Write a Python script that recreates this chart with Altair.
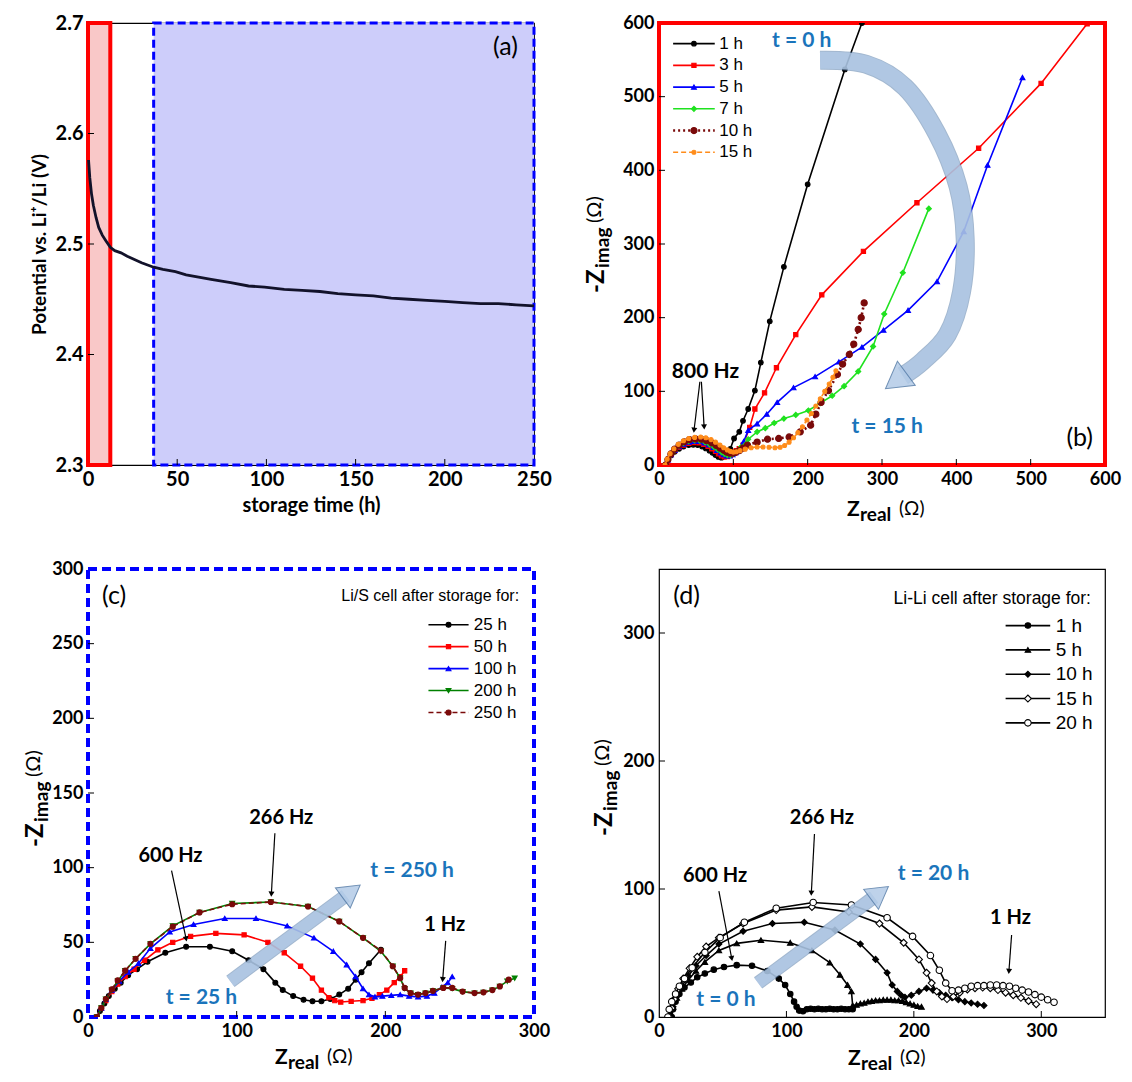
import math
import altair as alt
import pandas as pd

FONT = "Lato"
SANS = "Liberation Sans"
TBLUE = "#1a74bb"
BAND_IN = "#b3cbe7"
BAND_OUT = "#587ea9"

# ---------------- (a) potential of the Li/S cell while stored ----------------
a_time = [0.3, 1, 2, 3, 4.5, 6, 8, 10, 12.5, 15, 18.5, 22, 26, 30, 36.8, 42, 49, 55, 62, 69,
          80, 90, 99, 110, 120, 130, 140, 150, 160, 170, 180, 190, 200, 210, 220, 230, 240, 250]
a_potential = [2.576, 2.56, 2.545, 2.535, 2.524, 2.515, 2.508, 2.503, 2.497, 2.494, 2.492, 2.489,
               2.486, 2.483, 2.479, 2.477, 2.475, 2.472, 2.470, 2.468, 2.465, 2.462, 2.461, 2.459,
               2.458, 2.457, 2.455, 2.454, 2.453, 2.451, 2.450, 2.449, 2.448, 2.447, 2.446, 2.446,
               2.445, 2.444]
a_fresh = [0, 12.5]      # hours covered by (b)
a_stored = [36.8, 250]   # hours covered by (c)

# ---------------- (b) impedance, first 15 h ----------------
b_labels = ["1 h", "3 h", "5 h", "7 h", "10 h", "15 h"]
b_1h_x = [9, 12, 16, 21, 27, 33, 40, 46, 52, 58, 63, 68, 72, 76, 80, 84, 88, 92, 96, 101,
          108, 113, 120, 129, 137, 149, 168, 200, 250, 273]
b_1h_y = [0, 7, 13, 18, 22, 25, 27, 27.5, 27, 25, 22.5, 19.5, 16.5, 13.5, 11, 10, 11.5, 14.5, 22, 36,
          45, 60, 76, 101, 139, 195, 269, 381, 537, 600]
b_3h_x = [9, 12, 16, 21, 27, 33, 40, 47, 54, 60, 66, 71, 76, 80, 84, 88, 92, 96, 100, 104,
          108, 113, 122, 129, 142, 158, 184, 219, 275, 347, 430, 514, 576]
b_3h_y = [0, 7, 14, 19.5, 24, 27, 29.5, 30.5, 30, 28, 25.5, 22, 18.5, 15, 12.5, 11, 11.5, 13, 16, 19.5,
          22, 27, 51, 76, 98, 132, 177, 231, 290, 356, 430, 518, 599]
b_5h_x = [9, 12, 16, 21, 27, 33, 40, 47, 54, 61, 67, 73, 78, 83, 87, 91, 95, 99, 103, 108,
          114, 120, 132, 145, 159, 181, 210, 242, 273, 302, 335, 374, 410, 442, 489]
b_5h_y = [0, 7, 14, 20, 25, 28.5, 31, 32, 32, 30, 27.5, 24, 20, 16.5, 14, 12.5, 12.5, 14, 17, 22,
          32, 47, 56, 69, 85, 105, 120, 140, 160, 183, 210, 249, 317, 407, 526]
b_7h_x = [9, 12, 16, 21, 27, 33, 40, 48, 55, 62, 68, 74, 79, 84, 88, 92, 96, 100, 104, 110,
          120, 132, 143, 155, 168, 184, 201, 217, 233, 249, 268, 288, 303, 328, 363]
b_7h_y = [0, 7, 14, 20.5, 26, 30, 32.5, 33.5, 33, 31, 28, 24.5, 21, 17.5, 15, 13.5, 13.5, 15, 18, 24,
          35, 45, 50, 57, 63, 68, 74, 84, 94, 107, 127, 161, 205, 261, 348]
b_10h_x = [9, 12, 16, 21, 27, 34, 41, 49, 57, 64, 71, 77, 82, 87, 91, 95, 99, 103, 108, 113,
           119, 132, 146, 161, 175, 190, 204, 211, 218, 228, 240, 247, 256, 262, 268, 272, 276]
b_10h_y = [0, 7.5, 15, 21.5, 27, 31.5, 34.5, 35.5, 35, 33, 30, 26.5, 23, 20, 17.5, 16, 16, 17, 19.5, 23,
           27, 31, 35, 36, 38, 45, 54, 69, 85, 101, 123, 137, 150, 164, 184, 200, 220]
b_15h_x = [8, 11, 15, 20, 26, 33, 40, 48, 56, 63, 70, 76, 82, 87, 92, 96, 100, 104, 109, 116,
           124, 132, 140, 148, 156, 163, 169, 175, 181, 187, 193, 199, 205, 211, 217, 223, 229, 234, 238]
b_15h_y = [0, 8, 15.5, 22, 28, 33, 36, 37.5, 38, 37, 34.5, 31, 27, 23.5, 20.5, 18.5, 17.5, 18, 19.5, 21.5,
           23.5, 24.5, 24.5, 24, 23.5, 24, 26.5, 31, 37, 44, 52, 61, 70, 80, 90, 100, 110, 119, 128]

# ---------------- (c) impedance, 25-250 h ----------------
c_labels = ["25 h", "50 h", "100 h", "200 h", "250 h"]
c_25h_x = [6, 8, 11, 14, 18, 22, 27, 33, 40, 52, 66, 82, 97, 108, 118, 126, 131, 138, 145, 151,
           157, 163, 169, 175, 180, 184, 189, 197]
c_25h_y = [0, 4, 9, 14, 19, 23, 28, 32, 37, 43, 47, 47, 44, 38, 32, 23, 18, 14, 11.5, 10.5,
           10.5, 12, 15, 19, 25, 30, 36, 45]
c_50h_x = [6, 9, 12, 16, 20, 25, 31, 38, 47, 57, 69, 86, 105, 121, 132, 143, 151, 157, 162, 166,
           170, 177, 185, 191, 196, 201, 206, 210, 213]
c_50h_y = [0, 6, 11, 17, 22, 27, 32, 38, 45, 50, 54, 56, 55, 50, 43, 34, 26, 18, 13, 11,
           10, 10.5, 11, 12.5, 15, 18, 23, 27, 31]
c_100h_x = [6, 9, 12, 16, 21, 27, 34, 42, 55, 71, 92, 113, 134, 152, 165, 174, 180, 185, 189, 193,
            198, 204, 210, 216, 222, 228, 233, 238, 242, 245]
c_100h_y = [0, 6, 12, 18, 24, 30, 36, 46, 57, 62, 66, 66, 61, 53, 44, 35, 27, 19, 15, 13.5,
            14, 14.5, 15, 14, 13.5, 14, 16, 20, 23, 27]
c_200h_x = [6, 9, 12, 16, 20, 25, 32, 42, 57, 75, 97, 123, 148, 169, 185, 197, 205, 210, 213, 217,
            222, 227, 232, 239, 245, 252, 260, 266, 272, 277, 282, 287]
c_200h_y = [0, 6, 12, 18, 24, 31, 39, 49, 61, 70, 76, 77, 74, 64, 53, 44, 34, 26, 19, 16,
            15, 16, 17.5, 19.5, 19, 17, 16, 16.5, 18, 20.5, 24, 26]
c_250h_x = [6, 9, 12, 16, 20, 25, 32, 42, 57, 75, 97, 123, 148, 169, 185, 197, 205, 210, 213, 217,
            222, 227, 232, 239, 245, 252, 260, 266, 272, 277, 283]
c_250h_y = [0, 6, 12, 18.5, 24.5, 31, 39, 49, 60.5, 70, 75.5, 77, 74, 64, 53, 44.5, 34, 26, 19.5, 16,
            15, 16, 17.5, 19.5, 19.5, 17, 16, 16.5, 18, 20.5, 25]

# ---------------- (d) Li-Li symmetric cell ----------------
d_labels = ["1 h", "5 h", "10 h", "15 h", "20 h"]
d_1h_x = [10, 11, 13, 16, 20, 25, 30, 36, 43, 51, 61, 73, 85, 94, 99, 103, 106, 108, 110, 113,
          116, 119, 122, 125, 128, 131, 134, 137, 140, 143, 146, 149, 152]
d_1h_y = [0, 6, 12, 18, 23, 27, 31, 34, 37, 39, 40.5, 40, 36, 30, 25, 18, 12, 8, 5, 4.5,
          6, 6.5, 6, 6.5, 6, 6, 6.5, 6, 6, 6.5, 6, 6, 6]
d_5h_x = [9, 11, 14, 18, 23, 29, 36, 47, 61, 80, 103, 120, 134, 142, 148, 151, 152, 155, 158, 161,
          164, 167, 170, 173, 176, 179, 182, 185, 188, 191, 194, 197, 200, 203, 206]
d_5h_y = [0, 8, 15, 22, 29, 36, 43, 52, 57.5, 60, 58, 52, 42.5, 33, 25, 20, 9, 9.5, 10.5, 11,
          12, 12.5, 13, 13, 13.5, 13.5, 13.5, 13, 13, 12.5, 11.5, 10.5, 9.5, 8.5, 8]
d_10h_x = [9, 11, 14, 18, 23, 29, 37, 47, 66, 89, 114, 138, 158, 170, 179, 183, 187, 190, 193, 198,
           204, 210, 215, 220, 225, 230, 235, 240, 245, 250, 255]
d_10h_y = [0, 8, 16, 24, 32, 40, 48, 57, 67, 73, 74, 68, 57, 45, 34.5, 25, 20, 17, 15.5, 17,
           20, 22.5, 21, 19, 17, 15, 13.5, 12, 11, 10, 9]
d_15h_x = [8, 10, 12, 15, 19, 24, 30, 37, 47, 66, 92, 120, 149, 173, 192, 204, 210, 214, 218, 222,
           226, 231, 236, 242, 248, 254, 260, 266, 272, 278, 284, 290, 296]
d_15h_y = [0, 7, 14, 22, 30, 38, 47, 55, 62, 73, 83.5, 86, 82, 73, 58, 45, 34.5, 26.5, 20, 16,
           14, 16, 19, 21.5, 22.5, 23, 22.5, 21, 19, 17, 15, 12.5, 10]
d_20h_x = [7, 8, 10, 13, 16, 20, 26, 36, 48, 67, 92, 121, 151, 179, 199, 213, 220, 225, 230, 235,
           240, 245, 250, 255, 260, 265, 270, 275, 280, 285, 290, 295, 300, 305, 310]
d_20h_y = [0, 6, 12, 18, 24, 30, 38.5, 50.5, 62, 74, 85, 89.5, 87.5, 77.5, 63, 48, 36.5, 26.5, 20.5, 21,
           22.5, 24, 24.5, 24.5, 25, 25, 24.5, 24, 22.5, 21, 19.5, 17.5, 15.5, 13.5, 11.5]

# styles (not data)
b_styles = [
    dict(color="#000000", shape="circle", size=22),
    dict(color="#ff0000", shape="square", size=18),
    dict(color="#0000ff", shape="triangle-up", size=24),
    dict(color="#1fe21f", shape="diamond", size=26),
    dict(color="#7a0a0a", shape="circle", size=38, dash=[2, 3], width=2.6),
    dict(color="#ff8c1a", shape="circle", size=16, dash=[5, 3]),
]
c_styles = [
    dict(color="#000000", shape="circle", size=24),
    dict(color="#ff0000", shape="square", size=18),
    dict(color="#0000ff", shape="triangle-up", size=24),
    dict(color="#008000", shape="triangle-down", size=24),
    dict(color="#7a0a0a", shape="circle", size=26, dash=[5, 3]),
]
d_styles = [
    dict(color="#000000", shape="circle", size=30),
    dict(color="#000000", shape="triangle-up", size=30),
    dict(color="#000000", shape="diamond", size=36),
    dict(color="#000000", shape="diamond", size=48, fill="white"),
    dict(color="#000000", shape="circle", size=42, fill="white"),
]


def axis(vals, size, fmt="d"):
    return alt.Axis(values=vals, format=fmt, title=None, grid=False, domain=False, ticks=False,
                    labelFont=FONT, labelFontWeight="bold", labelFontSize=size, labelColor="black",
                    labelPadding=5, labelFlush=False, labelOverlap=False)


def enc(xdom, ydom, xvals, yvals, size, yfmt="d"):
    X = alt.X("x:Q", scale=alt.Scale(domain=xdom, nice=False, zero=False), axis=axis(xvals, size))
    Y = alt.Y("y:Q", scale=alt.Scale(domain=ydom, nice=False, zero=False), axis=axis(yvals, size, yfmt))
    return X, Y


def line_kw(st):
    kw = dict(color=st["color"], strokeWidth=st.get("width", 1.6), clip=True)
    if st.get("dash"):
        kw["strokeDash"] = st["dash"]
    return kw


def point_kw(st):
    return dict(shape=st["shape"], size=st["size"], filled=True, fill=st.get("fill", st["color"]),
                stroke=st["color"], strokeWidth=1.1, opacity=1, clip=True)


def curve(xs, ys, st, X, Y):
    df = pd.DataFrame({"x": xs, "y": ys, "i": list(range(len(xs)))})
    return [alt.Chart(df).mark_line(**line_kw(st)).encode(x=X, y=Y, order="i:Q"),
            alt.Chart(df).mark_point(**point_kw(st)).encode(x=X, y=Y)]


def note(text, x, y, X, Y, size=20, color="black", weight="bold", font=FONT, align="center"):
    return alt.Chart(pd.DataFrame({"x": [x], "y": [y]})).mark_text(
        text=text, font=font, fontSize=size, fontWeight=weight, color=color, align=align,
        baseline="middle").encode(x=X, y=Y)


def legend(labels, styles, X, Y, x1, x2, xt, y0, dy, size):
    out = []
    for i, (lab, st) in enumerate(zip(labels, styles)):
        y = y0 - i * dy
        seg = pd.DataFrame({"x": [x1, x2], "y": [y, y]})
        out.append(alt.Chart(seg).mark_line(**line_kw(st)).encode(x=X, y=Y))
        out.append(alt.Chart(pd.DataFrame({"x": [(x1 + x2) / 2], "y": [y]}))
                   .mark_point(**point_kw(st)).encode(x=X, y=Y))
        out.append(note(lab, xt, y, X, Y, size=size, weight="normal", font=SANS, align="left"))
    return out


def head_center(bx, by, tip, k, size):
    kx, ky = k
    ux, uy = (tip[0] - bx) * kx, -(tip[1] - by) * ky
    n = math.hypot(ux, uy)
    ux, uy = ux / n, uy / n
    d = 0.577 * math.sqrt(size)
    cx, cy = tip[0] - ux * d / kx, tip[1] + uy * d / ky
    ang = math.degrees(math.atan2(-ux, uy)) % 360
    return cx, cy, ux, uy, ang


def pointer(x0, y0, x1, y1, X, Y, k, size=36):
    cx, cy, _, _, ang = head_center(x0, y0, (x1, y1), k, size)
    shaft = pd.DataFrame({"x": [x0], "y": [y0], "x2": [cx], "y2": [cy]})
    return [alt.Chart(shaft).mark_rule(color="black", strokeWidth=1.2).encode(x=X, y=Y, x2="x2", y2="y2"),
            alt.Chart(pd.DataFrame({"x": [cx], "y": [cy]})).mark_point(
                shape="triangle-down", size=size, angle=ang, filled=True, color="black", opacity=1
            ).encode(x=X, y=Y)]


def band_arrow(xs, ys, tip, X, Y, k, width, size):
    cx, cy, ux, uy, ang = head_center(xs[-1], ys[-1], tip, k, size)
    r = 0.289 * math.sqrt(size)
    bx, by = cx - ux * r / k[0], cy + uy * r / k[1]
    df = pd.DataFrame({"x": list(xs) + [bx], "y": list(ys) + [by], "i": list(range(len(xs) + 1))})
    band = dict(strokeCap="butt", interpolate="cardinal")
    return [alt.Chart(df).mark_line(color=BAND_OUT, strokeWidth=width + 2, opacity=0.55, **band)
            .encode(x=X, y=Y, order="i:Q"),
            alt.Chart(df).mark_line(color=BAND_IN, strokeWidth=width, opacity=0.8, **band)
            .encode(x=X, y=Y, order="i:Q"),
            alt.Chart(pd.DataFrame({"x": [cx], "y": [cy]})).mark_point(
                shape="triangle-down", size=size, angle=ang, filled=True, fill=BAND_IN, stroke=BAND_OUT,
                strokeWidth=1, opacity=0.85).encode(x=X, y=Y)]


def inward_ticks(xvals, yvals, xdom, ydom, X, Y, k, n=6):
    kx, ky = k
    rows = [dict(x=v, y=ydom[0], x2=v, y2=ydom[0] + n / ky) for v in xvals]
    rows += [dict(x=xdom[0], y=v, x2=xdom[0] + n / kx, y2=v) for v in yvals]
    return alt.Chart(pd.DataFrame(rows)).mark_rule(color="black", strokeWidth=1).encode(
        x=X, y=Y, x2="x2", y2="y2")


def piece(text, x, y, size, weight="bold", angle=0):
    return alt.Chart(pd.DataFrame({"k": [0]})).mark_text(
        text=text, font=FONT, fontSize=size, fontWeight=weight, color="black", align="left",
        baseline="alphabetic", angle=angle).encode(x=alt.value(x), y=alt.value(y))


def z_titles(W, H, yx, ys, xx, xb):
    return [piece("-Z", yx, ys, 24, angle=270),
            piece("imag", yx + 5, ys - 25, 19, angle=270),
            piece("(Ω)", yx - 3, ys - 70, 20, weight="normal", angle=270),
            piece("Z", xx, H + xb, 21),
            piece("real", xx + 13, H + xb + 5, 19),
            piece("(Ω)", xx + 52, H + xb - 1, 19, weight="normal")]


# ---------------- panel (a) ----------------
WA, HA = 446, 442
a_x = [0, 50, 100, 150, 200, 250]
a_y = [2.3, 2.4, 2.5, 2.6, 2.7]
XA = alt.X("t:Q", scale=alt.Scale(domain=[0, 250], nice=False, zero=False),
           axis=alt.Axis(values=a_x, format="d", title="storage time (h)", grid=False, domain=False,
                         ticks=False, labelFont=FONT, labelFontWeight="bold", labelFontSize=20,
                         labelColor="black", labelPadding=4, labelFlush=False,
                         titleFont=FONT, titleFontSize=20, titleFontWeight="bold", titleColor="black",
                         titlePadding=6))
YA = alt.Y("y:Q", scale=alt.Scale(domain=[2.3, 2.7], nice=False, zero=False),
           axis=alt.Axis(values=a_y, format=".1f", title="Potential vs. Li⁺/Li (V)", grid=False,
                         domain=False, ticks=False, labelFont=FONT, labelFontWeight="bold",
                         labelFontSize=20, labelColor="black", labelPadding=5, labelFlush=False,
                         titleFont=FONT, titleFontSize=19, titleFontWeight="bold", titleColor="black",
                         titlePadding=6))
ka = (WA / 250, HA / 0.4)
a_df = pd.DataFrame({"t": a_time, "y": a_potential})
a_tick_df = pd.DataFrame([dict(t=v, y=2.3, t2=v, y2=2.3 + 6 / ka[1]) for v in a_x[1:-1]] +
                         [dict(t=0, y=v, t2=6 / ka[0], y2=v) for v in a_y[1:-1]])
a_layers = [
    alt.Chart(pd.DataFrame({"t": [a_stored[0]], "t2": [a_stored[1]]})).mark_rect(
        fill="#cdcdfa", stroke="#0000ff", strokeWidth=3, strokeDash=[8, 4]).encode(
        x=XA, x2="t2", y=alt.value(0), y2=alt.value(HA)),
    alt.Chart(pd.DataFrame({"t": [a_fresh[0]], "t2": [a_fresh[1]]})).mark_rect(
        fill="#f9c8c8", stroke="#ff0000", strokeWidth=4).encode(
        x=XA, x2="t2", y=alt.value(0), y2=alt.value(HA)),
    alt.Chart(a_tick_df).mark_rule(color="black").encode(x=XA, y=YA, x2="t2", y2="y2"),
    alt.Chart(a_df).mark_line(color="#12122a", strokeWidth=2.8).encode(x=XA, y=YA),
    alt.Chart(pd.DataFrame({"t": [234], "y": [2.678]})).mark_text(
        text="(a)", font=FONT, fontSize=25, color="black").encode(x=XA, y=YA),
]
panel_a = alt.layer(*a_layers).properties(
    width=WA, height=HA, view=alt.ViewBackground(stroke="black", strokeWidth=1.2))

# ---------------- panel (b) ----------------
WB, HB = 446, 442
b_xv = [0, 100, 200, 300, 400, 500, 600]
XB, YB = enc([0, 600], [0, 600], b_xv, b_xv, 18)
kb = (WB / 600, HB / 600)
b_layers = [inward_ticks(b_xv[1:-1], b_xv[1:-1], [0, 600], [0, 600], XB, YB, kb)]
for xs, ys, st in zip([b_1h_x, b_3h_x, b_5h_x, b_7h_x, b_10h_x, b_15h_x],
                      [b_1h_y, b_3h_y, b_5h_y, b_7h_y, b_10h_y, b_15h_y], b_styles):
    b_layers += curve(xs, ys, st, XB, YB)
b_layers += band_arrow([216.7, 278.6, 331, 373.8, 402.4, 411.9, 407, 388, 354.8],
                       [549.5, 544.1, 512.8, 450, 378, 306.8, 235, 177, 141],
                       (300, 100), XB, YB, kb, 17, 900)
b_layers += legend(b_labels, b_styles, XB, YB, 19, 75, 81, 572, 29.5, 17)
b_layers += pointer(55, 113, 46.6, 42.5, XB, YB, kb)
b_layers += pointer(57, 113, 61, 47, XB, YB, kb)
b_layers += [
    note("800 Hz", 62.5, 126, XB, YB, size=21),
    note("t = 0 h", 192, 576, XB, YB, size=21, color=TBLUE),
    note("t = 15 h", 307, 51.5, XB, YB, size=21, color=TBLUE),
    note("(b)", 566, 36, XB, YB, size=25, weight="normal"),
]
b_layers += z_titles(WB, HB, -55, 270, WB / 2 - 35, 51)
panel_b = alt.layer(*b_layers).properties(
    width=WB, height=HB, view=alt.ViewBackground(stroke="#ff0000", strokeWidth=4))

# ---------------- panel (c) ----------------
WC, HC = 446, 448
XC, YC = enc([0, 300], [0, 300], [0, 100, 200, 300], [0, 50, 100, 150, 200, 250, 300], 18)
kc = (WC / 300, HC / 300)
c_layers = [inward_ticks([100, 200], [50, 100, 150, 200, 250], [0, 300], [0, 300], XC, YC, kc)]
for xs, ys, st in zip([c_25h_x, c_50h_x, c_100h_x, c_200h_x, c_250h_x],
                      [c_25h_y, c_50h_y, c_100h_y, c_200h_y, c_250h_y], c_styles):
    c_layers += curve(xs, ys, st, XC, YC)
c_layers += band_arrow([95.8], [23.9], (185, 89.8), XC, YC, kc, 12, 620)
c_layers += legend(c_labels, c_styles, XC, YC, 229, 256, 259.5, 262.7, 14.7, 17)
c_layers += pointer(56.2, 98, 66.5, 50, XC, YC, kc)
c_layers += pointer(125.7, 123, 123.2, 80, XC, YC, kc)
c_layers += pointer(240.6, 51, 238.4, 22.7, XC, YC, kc)
c_layers += [
    note("Li/S cell after storage for:", 290, 281.8, XC, YC, size=16, weight="normal", font=SANS,
         align="right"),
    note("(c)", 17.6, 281.8, XC, YC, size=25, weight="normal"),
    note("600 Hz", 55.5, 108, XC, YC, size=20),
    note("266 Hz", 130, 133, XC, YC, size=20),
    note("1 Hz", 240, 61.4, XC, YC, size=20),
    note("t = 250 h", 218, 97.7, XC, YC, size=21, color=TBLUE),
    note("t = 25 h", 76.3, 12.5, XC, YC, size=21, color=TBLUE),
]
c_layers += z_titles(WC, HC, -45, 278, WC / 2 - 36, 47)
panel_c = alt.layer(*c_layers).properties(
    width=WC, height=HC, view=alt.ViewBackground(stroke="#0000ff", strokeWidth=4, strokeDash=[9, 5]))

# ---------------- panel (d) ----------------
WD, HD = 446, 448
XD, YD = enc([0, 350], [0, 350], [0, 100, 200, 300], [0, 100, 200, 300], 18)
kd = (WD / 350, HD / 350)
d_layers = [inward_ticks([100, 200, 300], [100, 200, 300], [0, 350], [0, 350], XD, YD, kd)]
for xs, ys, st in zip([d_1h_x, d_5h_x, d_10h_x, d_15h_x, d_20h_x],
                      [d_1h_y, d_5h_y, d_10h_y, d_15h_y, d_20h_y], d_styles):
    d_layers += curve(xs, ys, st, XD, YD)
d_layers += band_arrow([77.8], [26.6], (182.3, 103.6), XD, YD, kd, 12, 620)
d_layers += legend(d_labels, d_styles, XD, YD, 272, 307, 311.3, 305.8, 19, 19)
d_layers += pointer(122, 143, 119.4, 94, XD, YD, kd)
d_layers += pointer(47, 98.3, 57.6, 43, XD, YD, kd)
d_layers += pointer(276.7, 64, 274.4, 33, XD, YD, kd)
d_layers += [
    note("Li-Li cell after storage for:", 339, 326.7, XD, YD, size=17.5, weight="normal", font=SANS,
         align="right"),
    note("(d)", 21.6, 329, XD, YD, size=25, weight="normal"),
    note("600 Hz", 44, 110, XD, YD, size=20),
    note("266 Hz", 127.8, 155.4, XD, YD, size=20),
    note("1 Hz", 275.8, 77, XD, YD, size=20),
    note("t = 20 h", 215.4, 111.6, XD, YD, size=21, color=TBLUE),
    note("t = 0 h", 52.5, 13.3, XD, YD, size=21, color=TBLUE),
]
d_layers += z_titles(WD, HD, -47, 267, WD / 2 - 34, 48)
panel_d = alt.layer(*d_layers).properties(
    width=WD, height=HD, view=alt.ViewBackground(stroke="black", strokeWidth=1.2))

top = alt.hconcat(panel_a, panel_b, spacing=125, bounds="flush")
bottom = alt.hconcat(panel_c, panel_d, spacing=125, bounds="flush")
chart = alt.vconcat(top, bottom, spacing=31).properties(
    padding={"left": 14, "top": 4, "right": 0, "bottom": 0})

chart.save("out.html", embed_options={"renderer": "svg", "actions": False})
